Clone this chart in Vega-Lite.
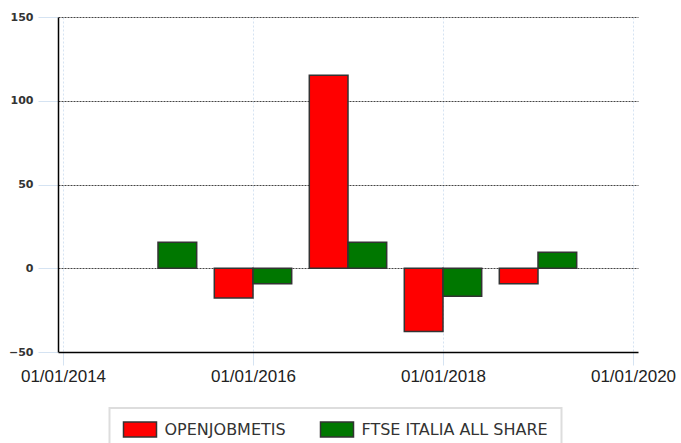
{
  "$schema": "https://vega.github.io/schema/vega-lite/v6.json",
  "width": 580,
  "height": 335,
  "autosize": {"type": "none"},
  "padding": {"left": 58, "top": 17, "right": 43, "bottom": 91},
  "background": "white",
  "config": {
    "view": {"stroke": null},
    "legend": {
      "orient": "none",
      "legendX": 51.5,
      "legendY": 391,
      "direction": "horizontal",
      "columns": 2,
      "strokeColor": "#dddddd",
      "strokeWidth": 2,
      "fillColor": "white",
      "padding": 13,
      "symbolType": "M-1,-1H3.4V1H-1Z",
      "symbolSize": 225,
      "symbolStrokeColor": "#333333",
      "symbolStrokeWidth": 1.5,
      "symbolOpacity": 1,
      "labelFont": "DejaVu Sans",
      "labelFontSize": 16,
      "labelColor": "#333333",
      "labelOffset": 25,
      "columnPadding": 31,
      "labelLimit": 400
    }
  },
  "data": {
    "values": [
      {"year": 2015, "series": "FTSE ITALIA ALL SHARE", "value": 15.5},
      {"year": 2016, "series": "OPENJOBMETIS", "value": -17.7},
      {"year": 2016, "series": "FTSE ITALIA ALL SHARE", "value": -9.3},
      {"year": 2017, "series": "OPENJOBMETIS", "value": 115.2},
      {"year": 2017, "series": "FTSE ITALIA ALL SHARE", "value": 15.5},
      {"year": 2018, "series": "OPENJOBMETIS", "value": -37.7},
      {"year": 2018, "series": "FTSE ITALIA ALL SHARE", "value": -16.7},
      {"year": 2019, "series": "OPENJOBMETIS", "value": -9.3},
      {"year": 2019, "series": "FTSE ITALIA ALL SHARE", "value": 9.6}
    ]
  },
  "encoding": {
    "x": {
      "field": "year",
      "type": "quantitative",
      "scale": {"domain": [2014, 2020], "nice": false, "zero": false},
      "axis": {
        "title": null,
        "values": [2014, 2016, 2018, 2020],
        "labelExpr": "'01/01/' + datum.value",
        "domainColor": "#000000",
        "domainWidth": 1.5,
        "tickColor": "#d5e3f2",
        "tickSize": 13,
        "grid": true,
        "gridColor": "#d5e3f2",
        "gridDash": [2, 2],
        "labelFont": "Liberation Sans",
        "labelFontSize": 17,
        "labelColor": "#222222",
        "labelPadding": 3,
        "labelFlush": false,
        "labelOverlap": false
      }
    },
    "y": {
      "field": "value",
      "type": "quantitative",
      "scale": {"domain": [-50, 150], "nice": false},
      "axis": {
        "title": null,
        "values": [-50, 0, 50, 100, 150],
        "domainColor": "#000000",
        "domainWidth": 1.5,
        "tickColor": "#d5e3f2",
        "tickSize": 20,
        "grid": true,
        "gridColor": "#444444",
        "gridDash": [2, 1],
        "gridOpacity": {"expr": "datum.value == -50 ? 0 : 1"},
        "labelFont": "DejaVu Sans",
        "labelFontWeight": "bold",
        "labelFontSize": 11,
        "labelColor": "#333333",
        "labelPadding": 5
      }
    },
    "color": {
      "field": "series",
      "type": "nominal",
      "scale": {
        "domain": ["OPENJOBMETIS", "FTSE ITALIA ALL SHARE"],
        "range": ["#ff0000", "#007700"]
      },
      "legend": {"title": null}
    }
  },
  "layer": [
    {
      "transform": [{"filter": "datum.series == 'OPENJOBMETIS'"}],
      "mark": {"type": "bar", "width": 38.7, "xOffset": -19.35, "stroke": "#333333", "strokeWidth": 1.5, "opacity": 1}
    },
    {
      "transform": [{"filter": "datum.series == 'FTSE ITALIA ALL SHARE'"}],
      "mark": {"type": "bar", "width": 38.7, "xOffset": 19.35, "stroke": "#333333", "strokeWidth": 1.5, "opacity": 1}
    }
  ]
}
